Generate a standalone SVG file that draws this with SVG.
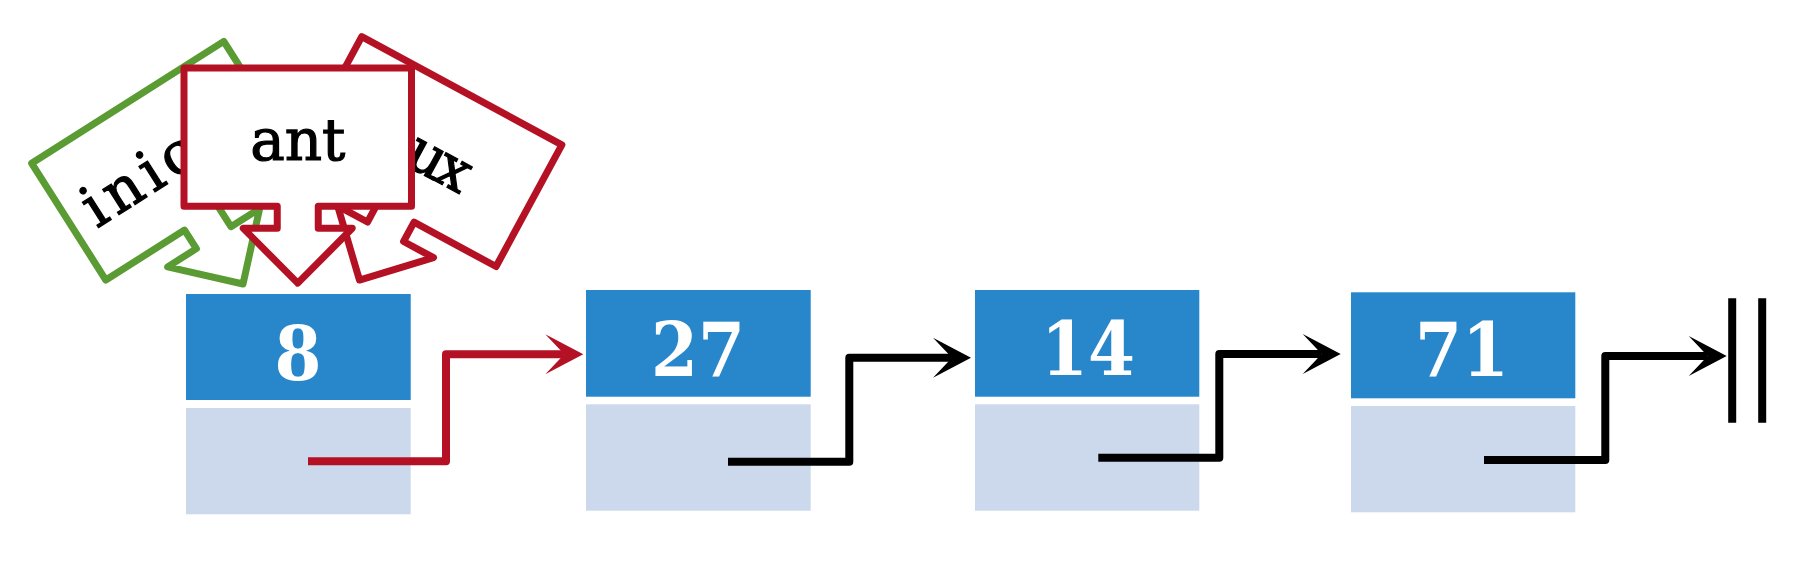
<svg xmlns="http://www.w3.org/2000/svg" xmlns:xlink="http://www.w3.org/1999/xlink" width="1820" height="574" viewBox="0 0 1820 574">
<style>
.callout{fill:#ffffff;stroke-width:7;stroke-linejoin:round}
.green{stroke:#5a9b33}
.red{stroke:#b41224}
.lbl{font-family:"DejaVu Serif","Liberation Serif",serif;font-size:58px;fill:#000000;stroke:#000000;stroke-width:1.2px;text-anchor:middle}
.val{fill:#2787ca}
.ptr{fill:#ccd9ec}
.num{font-family:"DejaVu Serif Condensed","DejaVu Serif",serif;font-stretch:condensed;font-weight:bold;font-size:75px;fill:#ffffff;text-anchor:middle}
.conn{fill:none;stroke-width:8;stroke-linejoin:round;stroke-linecap:butt}
.blk{stroke:#000000}
.rd{stroke:#b41224}
</style>
<defs>
<path id="callout" d="M-113.75,-69.15 H113.75 V69.15 H20.5 V91.15 H54.5 L0,146 L-54.5,91.15 H-20.5 V69.15 H-113.75 Z"/>
<marker id="ahB" markerUnits="userSpaceOnUse" viewBox="-40 -22 42 44" markerWidth="42" markerHeight="44" refX="-19" refY="0" orient="auto">
<path d="M0,0 L-38,-20 L-19,0 L-38,20 Z" fill="#000000"/>
</marker>
<marker id="ahR" markerUnits="userSpaceOnUse" viewBox="-40 -22 42 44" markerWidth="42" markerHeight="44" refX="-19" refY="0" orient="auto">
<path d="M0,0 L-38,-20 L-19,0 L-38,20 Z" fill="#b41224"/>
</marker>
</defs>
<rect x="0" y="0" width="1820" height="574" fill="#ffffff"/>

<g id="n8">
<rect class="val" x="186" y="294" width="224.7" height="106"/>
<rect class="ptr" x="186" y="408" width="224.7" height="106.3"/>
<text class="num" x="298" y="380">8</text>
</g>
<g id="n27">
<rect class="val" x="586" y="290" width="224.7" height="106.7"/>
<rect class="ptr" x="586" y="404.3" width="224.7" height="106.4"/>
<text class="num" x="698" y="376">27</text>
</g>
<g id="n14">
<rect class="val" x="975" y="290" width="224.3" height="106.7"/>
<rect class="ptr" x="975" y="404.3" width="224.3" height="106.4"/>
<text class="num" x="1088" y="375">14</text>
</g>
<g id="n71">
<rect class="val" x="1351" y="292.3" width="224.3" height="106"/>
<rect class="ptr" x="1351" y="406" width="224.3" height="106.3"/>
<text class="num" x="1462" y="376">71</text>
</g>
<g id="null">
<line x1="1732.2" y1="298.3" x2="1732.2" y2="422.7" stroke="#000000" stroke-width="8"/>
<line x1="1762.2" y1="298.3" x2="1762.2" y2="422.7" stroke="#000000" stroke-width="8"/>
</g>

<g id="connectors">
<path class="conn rd" d="M308,461.3 H446 V354.3 H564.3" marker-end="url(#ahR)"/>
<path class="conn blk" d="M728,461.7 H849.3 V357.7 H952" marker-end="url(#ahB)"/>
<path class="conn blk" d="M1098.3,457.7 H1219.3 V354 H1321.7" marker-end="url(#ahB)"/>
<path class="conn blk" d="M1484,460 H1605.3 V356 H1707.7" marker-end="url(#ahB)"/>
</g>

<g id="inicio" transform="translate(164.8,160.7) rotate(-32.4)">
<use xlink:href="#callout" href="#callout" class="callout green"/>
<text class="lbl" x="0" y="21" textLength="188">inicio</text>
</g>
<g id="aux" transform="translate(428.9,151.6) rotate(28.4)">
<use xlink:href="#callout" href="#callout" class="callout red"/>
<text class="lbl" x="0" y="23" textLength="95">aux</text>
</g>
<g id="ant" transform="translate(297.75,137.15)">
<use xlink:href="#callout" href="#callout" class="callout red"/>
<text class="lbl" x="0" y="23">ant</text>
</g>
</svg>
